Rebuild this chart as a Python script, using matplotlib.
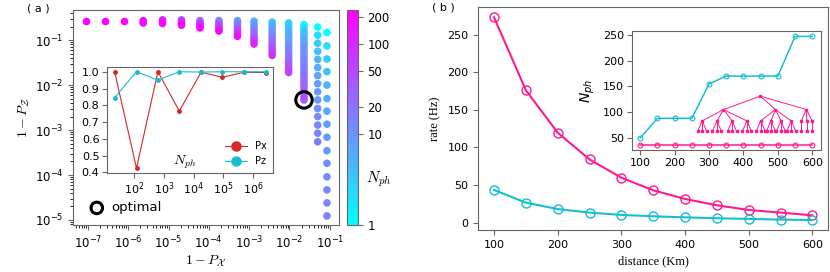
import numpy as np
import matplotlib.pyplot as plt
from matplotlib.colors import LogNorm
from matplotlib.ticker import LogLocator

plt.rcParams['font.size'] = 7.5

# ---- panel (a): log10(1-Px) of each column, log10(1-Pz) and N_ph of its dots
col_logx = [-7.06, -6.58, -6.10, -5.63, -5.15, -4.68, -4.22, -3.75, -3.29,
            -2.88, -2.43, -2.02, -1.64, -1.30, -1.07]
col_logz = [
    [-0.567],
    [-0.567],
    [-0.567],
    [-0.567, -0.62],
    [-0.55, -0.59, -0.63],
    [-0.55, -0.59, -0.63, -0.67],
    [-0.567, -0.61, -0.65, -0.69, -0.73],
    [-0.567, -0.61, -0.66, -0.71, -0.76, -0.80],
    [-0.567, -0.62, -0.68, -0.74, -0.80, -0.86, -0.916],
    [-0.58, -0.64, -0.70, -0.77, -0.83, -0.90, -0.96, -1.02, -1.087],
    [-0.60, -0.67, -0.73, -0.80, -0.87, -0.93, -1.00, -1.07, -1.13, -1.20, -1.27, -1.34],
    [-0.62, -0.69, -0.76, -0.83, -0.90, -0.97, -1.04, -1.10, -1.17, -1.24, -1.31,
     -1.38, -1.45, -1.52, -1.58, -1.65, -1.72],
    [-0.66, -0.73, -0.79, -0.86, -0.93, -0.99, -1.06, -1.13, -1.19, -1.26, -1.33,
     -1.39, -1.46, -1.53, -1.59, -1.66, -1.73, -1.79, -1.86, -1.93, -1.99, -2.06,
     -2.13, -2.19, -2.26, -2.33],
    [-0.71, -0.89, -1.07, -1.25, -1.43, -1.61, -1.79, -1.97, -2.15, -2.33, -2.52,
     -2.70, -2.89, -3.07, -3.26],
    [-0.83, -1.13, -1.42, -1.70, -2.00, -2.30, -2.58, -2.87, -3.16, -3.46, -3.74,
     -4.04, -4.33, -4.62, -4.91],
]
col_nph = [
    [230],
    [225],
    [220],
    [150, 210],
    [90, 140, 200],
    [50, 80, 130, 200],
    [25, 45, 75, 120, 200],
    [14, 24, 40, 65, 110, 190],
    [8, 12, 20, 35, 60, 100, 160],
    [6, 8, 11, 15, 21, 30, 45, 70, 110],
    [4, 5, 7, 9, 12, 15, 20, 26, 34, 45, 60, 80],
    [3, 3, 4, 5, 6, 7, 8, 10, 12, 14, 17, 20, 24, 30, 38, 48, 60],
    [1, 2, 3, 4, 5, 6, 7, 8, 9, 10, 11, 12, 13, 14, 15, 16, 18, 20, 22, 24, 26,
     28, 31, 34, 37, 40],
    [1, 2, 3, 4, 5, 6, 7, 8, 9, 10, 11, 12, 13, 14, 15],
    [1, 2, 3, 4, 5, 6, 7, 8, 9, 10, 11, 12, 13, 14, 15],
]
opt_logx, opt_logz = -1.64, -2.33
cbar_ticks = [1, 10, 20, 50, 100, 200]

# inset of (a)
ins_nph = [22, 120, 630, 3300, 17800, 93000, 500000, 2630000]
ins_px = [1.0, 0.425, 1.0, 0.765, 0.997, 0.967, 0.997, 0.995]
ins_pz = [0.845, 1.0, 0.95, 1.0, 0.998, 1.0, 1.0, 1.0]

# ---- panel (b)
distance = [100, 150, 200, 250, 300, 350, 400, 450, 500, 550, 600]
rate_pink = [273, 176, 119.5, 84, 59.7, 43, 31.4, 23, 16.8, 13.3, 9.7]
rate_cyan = [43.4, 26.5, 18, 13.3, 10.2, 8.4, 7, 5.8, 4.9, 4.0, 3.5]
nph_cyan = [50, 88, 88, 88, 155, 170, 170, 170, 170, 247, 247]
nph_pink = [37, 37, 37, 37, 37, 37, 37, 37, 37, 37, 37]

# tree drawn inside the inset of (b), in inset data units
tree_root = (449, 131)
tree_l1_x = [342, 493, 583]
tree_l1_y = 105
tree_l2_x = [[280, 323, 367, 410], [450, 480, 509, 539], [568, 584, 600]]
tree_l2_y = 83
tree_leaf_dx = [[-13, 0, 13], [-13, 0, 13], [0]]
tree_leaf_y = 63

pink = '#ff1a8c'
cyan = '#17becf'
spine_col = '0.4'

fig = plt.figure(figsize=(8.3, 2.72), dpi=100)

# ================= (a)
ax = fig.add_axes([0.088, 0.173, 0.320, 0.792])
norm = LogNorm(vmin=1, vmax=240)
for lx, lz, nn in zip(col_logx, col_logz, col_nph):
    sc = ax.scatter(np.full(len(lz), 10.0 ** lx), 10.0 ** np.array(lz), c=nn,
                    cmap='cool', norm=norm, s=30, linewidths=0, zorder=2)
ax.scatter([10.0 ** opt_logx], [10.0 ** opt_logz], s=140, facecolors='none',
           edgecolors='k', linewidths=2.2, zorder=3, label='optimal')
ax.set_xscale('log')
ax.set_yscale('log')
ax.set_xlim(10 ** -7.37, 10 ** -0.78)
ax.set_ylim(10 ** -5.11, 10 ** -0.32)
ax.tick_params(labelsize=8.5, color=spine_col)
ax.set_xlabel(r'$1-P_{\mathcal{X}}$', fontsize=10, labelpad=2,
              math_fontfamily='cm')
ax.set_ylabel(r'$1-P_{\mathcal{Z}}$', fontsize=10, labelpad=2,
              math_fontfamily='cm')
for s in ax.spines.values():
    s.set_color(spine_col)
ax.legend(loc='lower left', frameon=False, fontsize=9.5, handletextpad=0.1,
          borderaxespad=0.4, markerscale=0.7)

cax = fig.add_axes([0.418, 0.173, 0.013, 0.792])
cbar = fig.colorbar(sc, cax=cax, ticks=cbar_ticks)
cbar.ax.minorticks_off()
cbar.ax.set_yticklabels([str(t) for t in cbar_ticks])
cbar.ax.tick_params(labelsize=8.5, color=spine_col)
cbar.outline.set_edgecolor(spine_col)
cbar.ax.text(1.75, 0.21, r'$N_{ph}$', transform=cbar.ax.transAxes,
             fontsize=11, va='center', ha='left', math_fontfamily='cm')

# inset of (a)
axi = fig.add_axes([0.129, 0.364, 0.200, 0.390])
axi.plot(ins_nph, ins_px, '-o', color='#d62728', lw=0.8, ms=2.5, label='Px')
axi.plot(ins_nph, ins_pz, '-o', color=cyan, lw=0.8, ms=2.5, label='Pz')
axi.set_xscale('log')
axi.xaxis.set_major_locator(LogLocator(base=10, numticks=12))
axi.set_yticks([0.4, 0.5, 0.6, 0.7, 0.8, 0.9, 1.0])
axi.tick_params(labelsize=8, color=spine_col, pad=2)
for s in axi.spines.values():
    s.set_color(spine_col)
axi.text(0.47, 0.1, r'$N_{ph}$', transform=axi.transAxes, fontsize=10,
         ha='center', va='center', math_fontfamily='cm')
axi.legend(loc='lower right', frameon=False, fontsize=7, markerscale=2.6,
           handlelength=2.2, borderaxespad=0.3)

fig.text(0.033, 0.97, '( a )', fontsize=8, va='center')

# ================= (b)
bx = fig.add_axes([0.576, 0.154, 0.422, 0.820])
bx.plot(distance, rate_pink, '-o', color=pink, lw=1.5, ms=6.5, mfc='none', mew=1)
bx.plot(distance, rate_cyan, '-o', color=cyan, lw=1.5, ms=6.5, mfc='none', mew=1)
bx.set_xticks([100, 200, 300, 400, 500, 600])
bx.set_yticks([0, 50, 100, 150, 200, 250])
bx.tick_params(labelsize=8, color=spine_col)
bx.set_xlabel('distance (Km)', family='Liberation Serif', fontsize=9)
bx.set_ylabel('rate (Hz)', family='Liberation Serif', fontsize=9)
for s in bx.spines.values():
    s.set_color(spine_col)

bi = fig.add_axes([0.761, 0.4485, 0.228, 0.4375])
bi.plot(distance, nph_cyan, '-o', color=cyan, lw=1.1, ms=3.5, mfc='none', mew=0.8)
bi.plot(distance, nph_pink, '-o', color=pink, lw=1.1, ms=3.5, mfc='none', mew=0.8)
# tree graph
rx, ry = tree_root
for i, x1 in enumerate(tree_l1_x):
    bi.plot([rx, x1], [ry, tree_l1_y], color=pink, lw=0.7)
    for x2 in tree_l2_x[i]:
        bi.plot([x1, x2], [tree_l1_y, tree_l2_y], color=pink, lw=0.7)
        for dx in tree_leaf_dx[i]:
            bi.plot([x2, x2 + dx], [tree_l2_y, tree_leaf_y], color=pink, lw=0.7)
            bi.plot([x2 + dx], [tree_leaf_y], 's', color=pink, ms=2)
        bi.plot([x2], [tree_l2_y], 's', color=pink, ms=2)
    bi.plot([x1], [tree_l1_y], 's', color=pink, ms=2)
bi.plot([rx], [ry], 's', color=pink, ms=2)
bi.set_xticks([100, 200, 300, 400, 500, 600])
bi.set_yticks([50, 100, 150, 200, 250])
bi.tick_params(labelsize=8, color=spine_col, pad=2)
bi.set_ylabel(r'$N_{ph}$', fontsize=10, math_fontfamily='dejavusans')
for s in bi.spines.values():
    s.set_color(spine_col)

fig.text(0.521, 0.974, '( b )', fontsize=8, va='center')

fig.savefig('out.png', dpi=100)
